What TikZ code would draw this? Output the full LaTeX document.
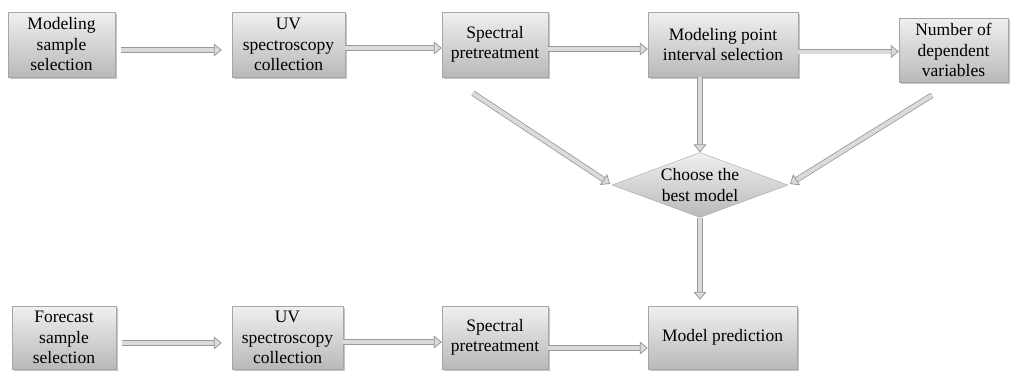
\documentclass[tikz,border=0pt]{standalone}
\usepackage{fontspec}
\setmainfont{Liberation Serif}
\usetikzlibrary{shapes.geometric, arrows.meta, positioning, shadows}

\begin{document}
\begin{tikzpicture}[
    x=1pt, y=-1pt,
    stage/.style={draw=gray!70, top color=gray!12, bottom color=gray!55, minimum height=65pt, inner sep=2pt, font=\fontsize{17.5}{20.5}\selectfont, align=center, drop shadow={shadow xshift=1.5pt, shadow yshift=-1.5pt, opacity=0.45}},
    decide/.style={diamond, draw=gray!70, top color=gray!12, bottom color=gray!55, aspect=2.7, inner sep=0pt, minimum width=176pt, minimum height=65pt, font=\fontsize{17.5}{20.5}\selectfont, align=center},
    flow/.style={draw=gray!80, line width=0.8pt, double=gray!28, double distance=4pt, -{Triangle[open, length=8pt, width=13pt, fill=gray!28]}}
]
    \useasboundingbox (0,0) rectangle (1010,370);

    % Modeling row
    \node[stage, minimum width=107pt] (mss) at (61.5,44.5) {Modeling\\sample\\selection};
    \node[stage, minimum width=113pt] (uv1) at (288.5,44.5) {UV\\spectroscopy\\collection};
    \node[stage, minimum width=106pt] (sp1) at (495,44.5) {Spectral\\pretreatment};
    \node[stage, minimum width=150pt] (mpis) at (723,44.5) {Modeling point\\interval selection};
    \node[stage, minimum width=109pt, minimum height=64pt] (ndv) at (953.5,50) {Number of\\dependent\\variables};

    % Decision
    \node[decide] (best) at (700,185) {Choose the\\best model};

    % Forecast row
    \node[stage, minimum width=104pt, minimum height=63pt] (fss) at (64,337.5) {Forecast\\sample\\selection};
    \node[stage, minimum width=111pt, minimum height=63pt] (uv2) at (287.5,337.5) {UV\\spectroscopy\\collection};
    \node[stage, minimum width=106pt, minimum height=63pt] (sp2) at (495,337.5) {Spectral\\pretreatment};
    \node[stage, minimum width=149pt, minimum height=63pt] (mp) at (722.5,337.5) {Model prediction};

    % Connections
    \coordinate (a4) at ([yshift=-7pt]mpis.east);
    \draw[flow, shorten <=6pt, shorten >=10pt] ([yshift=-5.5pt]mss.east) -- ([yshift=-5.5pt]uv1.west);
    \draw[flow] ([yshift=-3.5pt]uv1.east) -- ([yshift=-3.5pt]sp1.west);
    \draw[flow] ([yshift=-4.5pt]sp1.east) -- ([yshift=-4.5pt]mpis.west);
    \draw[flow] (a4) -- (a4 -| ndv.west);
    \draw[flow] (best.north |- mpis.south) -- (best.north);
    \draw[flow, shorten >=2pt] ([xshift=-22pt, yshift=-16pt]sp1.south) -- (best.west);
    \draw[flow, shorten >=2pt] ([xshift=-21.5pt, yshift=-13pt]ndv.south) -- (best.east);
    \draw[flow, shorten >=6pt] (best.south) -- (best.south |- mp.north);
    \draw[flow, shorten <=6pt, shorten >=10pt] ([yshift=-5.5pt]fss.east) -- ([yshift=-5.5pt]uv2.west);
    \draw[flow] ([yshift=-4.5pt]uv2.east) -- ([yshift=-4.5pt]sp2.west);
    \draw[flow] ([yshift=-10.5pt]sp2.east) -- ([yshift=-10.5pt]mp.west);
\end{tikzpicture}
\end{document}
